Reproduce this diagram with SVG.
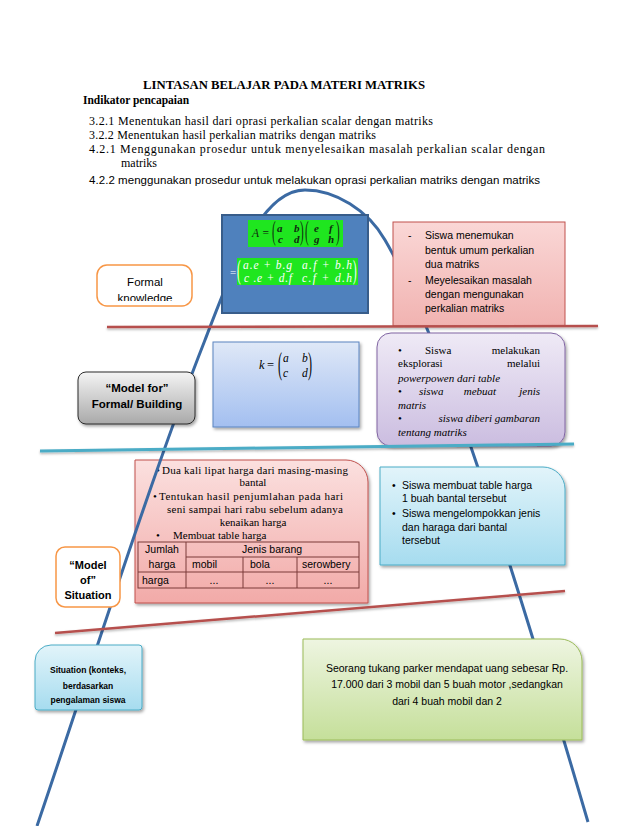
<svg xmlns="http://www.w3.org/2000/svg" width="638" height="826" viewBox="0 0 638 826">
<defs>
<linearGradient id="gPink" x1="0" y1="0" x2="0" y2="1"><stop offset="0" stop-color="#fbe0df"/><stop offset="1" stop-color="#f2aaa8"/></linearGradient>
<linearGradient id="gPink2" x1="0" y1="0" x2="0" y2="1"><stop offset="0" stop-color="#fad7d6"/><stop offset="1" stop-color="#f1b3b1"/></linearGradient>
<linearGradient id="gPurple" x1="0" y1="0" x2="0" y2="1"><stop offset="0" stop-color="#efeaf6"/><stop offset="1" stop-color="#cbbde0"/></linearGradient>
<linearGradient id="gLBlue" x1="0" y1="0" x2="0" y2="1"><stop offset="0" stop-color="#dfe8f7"/><stop offset="1" stop-color="#a3bff0"/></linearGradient>
<linearGradient id="gCyan" x1="0" y1="0" x2="0" y2="1"><stop offset="0" stop-color="#e2f4fa"/><stop offset="1" stop-color="#a6dcef"/></linearGradient>
<linearGradient id="gGreen" x1="0" y1="0" x2="0" y2="1"><stop offset="0" stop-color="#eef5e1"/><stop offset="1" stop-color="#c5df9a"/></linearGradient>
<linearGradient id="gGray" x1="0" y1="0" x2="0" y2="1"><stop offset="0" stop-color="#f4f4f4"/><stop offset="1" stop-color="#a9a9a9"/></linearGradient>
<filter id="sh" x="-10%" y="-10%" width="130%" height="140%"><feDropShadow dx="1.5" dy="2" stdDeviation="1.5" flood-color="#000" flood-opacity="0.35"/></filter>
<filter id="lsh" x="-5%" y="-50%" width="110%" height="300%"><feDropShadow dx="0" dy="1.5" stdDeviation="1" flood-color="#000" flood-opacity="0.3"/></filter>
<clipPath id="fkClip"><rect x="97" y="265" width="95" height="36"/></clipPath>
</defs>
<style>
.serif{font-family:"Liberation Serif","Times New Roman",serif;fill:#000}
.sans{font-family:"Liberation Sans",Arial,sans-serif;fill:#000}
.b{font-weight:bold}
.i{font-style:italic}
.mid{text-anchor:middle}
.end{text-anchor:end}
.tbl{fill:none;stroke:#7a3b39;stroke-width:1}
.par{font-family:"Liberation Serif",serif}
</style>

<g id="header">
<text class="serif b" x="143" y="89" font-size="12.5" textLength="282" lengthAdjust="spacingAndGlyphs">LINTASAN BELAJAR PADA MATERI MATRIKS</text>
<text class="serif b" x="83" y="104" font-size="11.5">Indikator pencapaian</text>
<text class="serif" x="89" y="125" font-size="12" textLength="344">3.2.1 Menentukan  hasil  dari  oprasi perkalian  scalar dengan  matriks</text>
<text class="serif" x="89" y="139" font-size="12" textLength="287">3.2.2 Menentukan  hasil perkalian  matriks  dengan matriks</text>
<text class="serif" x="89" y="153" font-size="12" textLength="456">4.2.1 Menggunakan   prosedur   untuk   menyelesaikan   masalah   perkalian   scalar   dengan</text>
<text class="serif" x="121" y="167" font-size="12">matriks</text>
<text class="sans" x="89" y="184" font-size="11.5" textLength="451">4.2.2 menggunakan  prosedur  untuk melakukan oprasi perkalian matriks dengan matriks</text>
</g>

<g id="node-pink-situation">
<path d="M135,460 H346 A22,22 0 0 1 368,482 V603 H135 Z" fill="url(#gPink)" stroke="#c0504d" stroke-width="1" filter="url(#sh)"/>
<g class="serif" font-size="11">
<text x="156" y="474">•</text>
<text x="162" y="474" textLength="186">Dua kali lipat  harga dari masing-masing</text>
<text class="mid" x="253" y="486">bantal</text>
<text x="153" y="500">•</text>
<text x="159" y="500" textLength="184">Tentukan  hasil penjumlahan  pada hari</text>
<text x="167" y="513" textLength="176">seni sampai hari rabu  sebelum adanya</text>
<text class="mid" x="253" y="526">kenaikan harga</text>
<text x="156" y="539">•</text>
<text x="173" y="539">Membuat table harga</text>
</g>
<rect class="tbl" x="138" y="542" width="221" height="46"/>
<line class="tbl" x1="186" y1="542" x2="186" y2="588"/>
<line class="tbl" x1="186" y1="557" x2="359" y2="557"/>
<line class="tbl" x1="138" y1="572" x2="359" y2="572"/>
<line class="tbl" x1="243" y1="557" x2="243" y2="588"/>
<line class="tbl" x1="297" y1="557" x2="297" y2="588"/>
<g class="sans" font-size="10.5">
<text class="mid" x="162" y="553">Jumlah</text>
<text class="mid" x="162" y="568">harga</text>
<text class="mid" x="272" y="553">Jenis barang</text>
<text x="192" y="568">mobil</text>
<text x="250" y="568">bola</text>
<text x="302" y="568">serowbery</text>
<text x="142" y="584">harga</text>
<text class="mid" x="214" y="584">...</text>
<text class="mid" x="270" y="584">...</text>
<text class="mid" x="328" y="584">...</text>
</g>
</g>

<g id="connectors">
<path d="M37,826 C90,670 150,480 205,340 C235,262 262,190 305,190 C335,190 368,210 385,240 C420,300 470,420 588,822" fill="none" stroke="#3b6aa3" stroke-width="3"/>
</g>

<g id="node-formula-top">
<rect x="222" y="215" width="146" height="98" fill="#4f81bd" stroke="#385d8a" stroke-width="2"/>
<rect x="248" y="220" width="95" height="27" fill="#1fe61f"/>
<rect x="237" y="258" width="121" height="27" fill="#1fe61f"/>
<text x="252" y="237" font-family="Liberation Serif,serif" font-style="italic" font-size="11.5" fill="#0f2a0f">A =</text>
<g font-family="Liberation Serif,serif" font-style="italic" font-weight="bold" font-size="11" fill="#0f2a0f">
<text x="277" y="232">a</text><text x="294" y="232">b</text>
<text x="278" y="243">c</text><text x="294" y="243">d</text>
<text x="314" y="232">e</text><text x="329" y="232">f</text>
<text x="314" y="243">g</text><text x="328" y="243">h</text>
</g>
<g class="par" font-size="11" fill="#0f2a0f">
<text transform="translate(272,240) scale(1,2.5)">(</text>
<text transform="translate(300,240) scale(1,2.5)">)</text>
<text transform="translate(305,240) scale(1,2.5)">(</text>
<text transform="translate(336,240) scale(1,2.5)">)</text>
</g>
<text x="230" y="276" font-family="Liberation Serif,serif" font-size="11" fill="#ffffff">=</text>
<g font-family="Liberation Serif,serif" font-style="italic" font-size="11.5" fill="#ffffff">
<text x="243" y="269" textLength="49">a.e + b.g</text>
<text x="302" y="269" textLength="50">a.f + b.h</text>
<text x="244" y="282" textLength="48">c .e + d.f</text>
<text x="302" y="282" textLength="50">c.f + d.h</text>
</g>
<g class="par" font-size="11" fill="#ffffff">
<text transform="translate(237,279) scale(1,2.5)">(</text>
<text transform="translate(353,279) scale(1,2.5)">)</text>
</g>
</g>

<g id="node-formal-knowledge">
<rect x="97" y="265" width="95" height="41" rx="10" fill="#ffffff" stroke="#f79646" stroke-width="1.5"/>
<g clip-path="url(#fkClip)" class="sans" font-size="11.5">
<text class="mid" x="145" y="286">Formal</text>
<text class="mid" x="145" y="302">knowledge</text>
</g>
</g>

<g id="node-red-top">
<rect x="393" y="222" width="172" height="104" fill="url(#gPink2)" stroke="#c0504d" stroke-width="1"/>
<g class="sans" font-size="10.5">
<text x="408" y="239">-</text>
<text x="425" y="239">Siswa menemukan</text>
<text x="425" y="254">bentuk umum perkalian</text>
<text x="425" y="268">dua matriks</text>
<text x="408" y="284">-</text>
<text x="425" y="284">Meyelesaikan masalah</text>
<text x="425" y="298">dengan mengunakan</text>
<text x="425" y="312">perkalian matriks</text>
</g>
</g>

<g id="node-model-for">
<rect x="78" y="372" width="117" height="52" rx="8" fill="url(#gGray)" stroke="#2b2b2b" stroke-width="1" filter="url(#sh)"/>
<text class="sans b mid" x="137" y="392" font-size="11.5">“Model for”</text>
<text class="sans b mid" x="137" y="408" font-size="11.5">Formal/ Building</text>
</g>

<g id="node-k-matrix">
<rect x="213" y="342" width="146" height="85" fill="url(#gLBlue)" stroke="#5b84c0" stroke-width="1" filter="url(#sh)"/>
<text x="259" y="369" font-family="Liberation Serif,serif" font-style="italic" font-size="12.5">k</text>
<text x="267" y="369" font-family="Liberation Serif,serif" font-size="12.5">=</text>
<g font-family="Liberation Serif,serif" font-style="italic" font-size="11.5">
<text x="283" y="362">a</text><text x="302" y="362">b</text>
<text x="283" y="377">c</text><text x="302" y="377">d</text>
</g>
<g class="par" font-size="12">
<text transform="translate(278,374) scale(1,2.6)">(</text>
<text transform="translate(308,374) scale(1,2.6)">)</text>
</g>
</g>

<g id="node-purple">
<rect x="377" y="333" width="188" height="113" rx="14" fill="url(#gPurple)" stroke="#8064a2" stroke-width="1" filter="url(#sh)"/>
<g class="serif" font-size="11">
<text x="398" y="354">•</text>
<text x="425" y="354">Siswa</text>
<text class="end" x="540" y="354">melakukan</text>
<text x="398" y="367">eksplorasi</text>
<text class="end" x="540" y="367">melalui</text>
<text class="i" x="398" y="382">powerpowen   dari table</text>
<text x="398" y="395">•</text>
<text class="i" x="419" y="395">siswa</text>
<text class="i mid" x="480" y="395">mebuat</text>
<text class="i end" x="540" y="395">jenis</text>
<text class="i" x="398" y="409">matris</text>
<text x="398" y="422">•</text>
<text class="i end" x="540" y="422">siswa diberi gambaran</text>
<text class="i" x="398" y="436">tentang matriks</text>
</g>
</g>

<g id="node-cyan-right">
<path d="M380,467 H543 A22,22 0 0 1 565,489 V565 H380 Z" fill="url(#gCyan)" stroke="#4bacc6" stroke-width="1" filter="url(#sh)"/>
<g class="sans" font-size="10.5">
<text x="392" y="489">•</text>
<text x="402" y="489">Siswa membuat table harga</text>
<text x="402" y="502">1 buah bantal  tersebut</text>
<text x="392" y="517">•</text>
<text x="402" y="517">Siswa mengelompokkan jenis</text>
<text x="402" y="531">dan haraga dari bantal</text>
<text x="402" y="544">tersebut</text>
</g>
</g>

<g id="node-model-of">
<rect x="56" y="547" width="64" height="60" rx="9" fill="#ffffff" stroke="#f79646" stroke-width="1.5"/>
<g class="sans b mid" font-size="11">
<text x="88" y="569">“Model</text>
<text x="88" y="584">of”</text>
<text x="88" y="599">Situation</text>
</g>
</g>

<g id="node-situation">
<path d="M51,645 H139 Q142,645 142,648 V707 Q142,710 139,710 H38 Q35,710 35,707 V661 A16,16 0 0 1 51,645 Z" fill="url(#gCyan)" stroke="#4bacc6" stroke-width="1" filter="url(#sh)"/>
<g class="sans b mid" font-size="8.5">
<text x="88" y="673">Situation (konteks,</text>
<text x="88" y="689">berdasarkan</text>
<text x="88" y="703">pengalaman  siswa</text>
</g>
</g>

<g id="node-green">
<path d="M303,639 H560 A22,22 0 0 1 582,661 V740 H303 Z" fill="url(#gGreen)" stroke="#9bbb59" stroke-width="1" filter="url(#sh)"/>
<g class="sans mid" font-size="10.5">
<text x="447" y="672">Seorang tukang parker mendapat uang sebesar Rp.</text>
<text x="447" y="688">17.000 dari 3 mobil dan 5 buah motor ,sedangkan</text>
<text x="447" y="705">dari 4 buah mobil dan 2</text>
</g>
</g>

<g id="dividers" filter="url(#lsh)">
<line x1="107" y1="327" x2="598" y2="326" stroke="#b6504d" stroke-width="2.5"/>
<line x1="40" y1="451" x2="574" y2="444" stroke="#4bacc6" stroke-width="3"/>
<line x1="55" y1="633" x2="565" y2="591" stroke="#b6504d" stroke-width="2.5"/>
</g>
</svg>
